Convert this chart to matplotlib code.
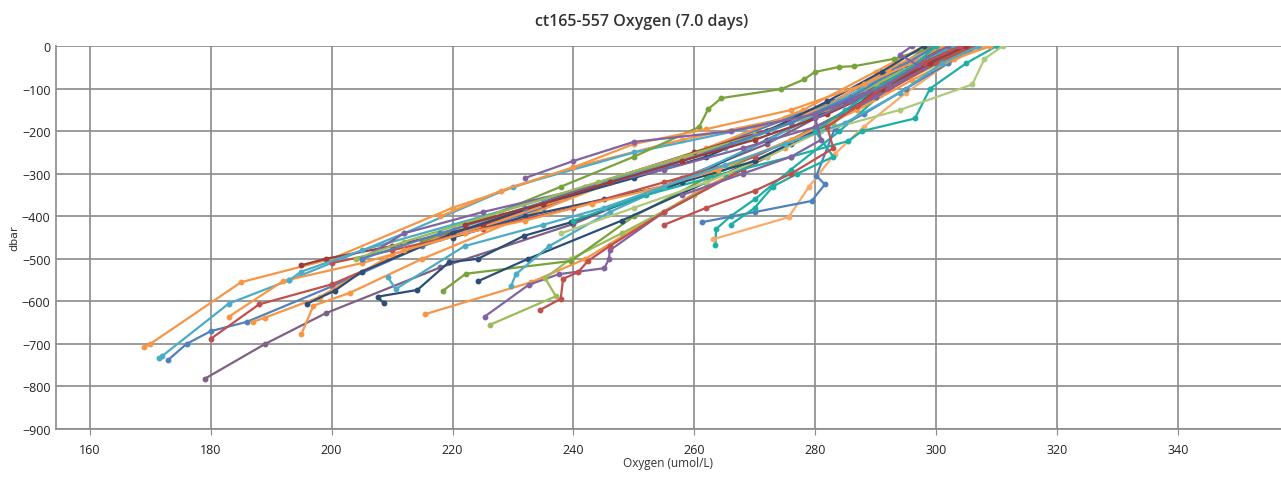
import matplotlib
matplotlib.use("Agg")
import matplotlib.pyplot as plt

# oxygen (umol/L) and pressure (dbar) for each float profile, surface first
oxy = [
    [300, 298, 290, 275, 258, 240, 220, 200, 185, 170, 169],
    [302, 297, 286, 270, 250, 230, 212, 193, 183, 172, 171.5],
    [299, 294, 283, 268, 252, 235, 215, 200, 186, 180, 176, 173],
    [305, 300, 288, 272, 255, 236, 218, 200, 188, 180],
    [303, 296, 284, 272, 258, 240, 218, 199, 189, 179],
    [300, 292, 282, 268, 250, 232, 215, 203, 197, 195],
    [304, 297, 286, 270, 255, 238, 222, 205, 192, 183],
    [298, 290, 278, 262, 245, 226, 210, 198, 189, 187],
    [306, 300, 290, 276, 260, 242, 225, 210, 199, 195],
    [305, 297, 287, 275, 262, 250, 242, 233, 215.5],
    [306, 300, 290, 280, 268, 255, 246, 245.9, 245.1, 237.6, 232.6, 225.3],
    [309, 302, 292, 283, 272, 260, 248, 239.6, 235.3, 237.1, 226.2],
    [307, 300, 290, 280, 268, 255, 246, 242.4, 240.8, 238.3, 237.9, 234.5],
    [306, 298, 288, 276, 262, 250, 239.6, 222.2, 218.4],
    [303, 296, 287, 276, 262, 248, 232.5, 224.3],
    [302, 295, 285, 272, 258, 239.6, 231.8, 224.2, 219.4, 214.2, 207.6, 208.6],
    [300, 294, 284, 273, 260, 246, 236, 230.5, 229.7],
    [305, 300, 292, 284, 276, 270, 266, 263.6, 263.5],
    [308, 302, 295, 288, 283.2, 279, 275.6, 263.1],
    [307, 302, 295, 288, 283.2, 280.2, 281.6, 279.4, 270, 261.2],
    [310, 305, 299, 296.5, 287.7, 285.5, 276, 265, 252, 240],
    [300, 293, 286.5, 283.9, 279.9, 278.2, 274.4, 264.5, 262.3, 260.8, 250, 238, 226, 215],
    [311, 308, 306, 294, 281, 272, 262, 250, 238],
    [298, 291, 282, 272, 262, 250, 235, 220, 205, 200.5, 196],
    [305, 298, 290, 280, 270, 258, 245, 232, 220],
    [306, 300, 292, 282, 270, 255, 240, 225, 210, 200],
    [303, 297, 288, 278, 265, 250, 235, 220, 205, 195, 193],
    [309, 303, 296, 287, 276, 264, 252, 243, 232, 222, 212],
    [304, 298, 290, 280, 268, 255, 240, 225, 212, 205],
    [302, 297, 290, 282, 270, 258, 244, 228, 212, 204],
    [307, 301, 294, 285, 275, 265, 255, 245, 235, 222, 210.6, 209.3],
    [300, 294, 286, 276, 266, 256, 246, 232, 218, 205],
    [305, 299, 291, 282, 270, 258, 246, 235, 222],
    [301, 296, 288, 276, 262, 250, 240, 228, 218],
    [302, 297, 290, 280, 266, 250, 240, 232],
    [300, 296, 290, 285, 280, 283, 277, 273, 270, 266],
    [304, 298, 292, 287, 282, 283, 276, 270, 262, 255],
    [296, 294, 297, 292, 286, 280, 281, 276, 268, 258],
]
dbar = [
    [0, -40, -100, -170, -220, -285, -380, -500, -555, -700, -708],
    [0, -50, -120, -190, -250, -330, -440, -550, -605, -728, -732],
    [0, -45, -130, -210, -290, -380, -470, -565, -648, -670, -700, -737],
    [0, -40, -120, -200, -280, -370, -450, -560, -607, -688],
    [0, -50, -140, -230, -310, -418, -520, -628, -700, -782],
    [0, -55, -140, -220, -300, -400, -500, -580, -610, -677],
    [0, -45, -130, -210, -280, -360, -440, -510, -552, -636],
    [0, -60, -150, -240, -320, -410, -490, -590, -638, -648],
    [0, -30, -100, -180, -250, -330, -420, -470, -500, -515],
    [0, -50, -140, -240, -330, -430, -500, -555, -630],
    [0, -40, -120, -200, -290, -390, -480, -500, -522, -536, -561, -636],
    [0, -30, -100, -180, -260, -350, -440, -500, -545, -588, -655],
    [0, -40, -120, -200, -290, -390, -470, -505, -531, -547, -594, -620],
    [0, -50, -130, -220, -310, -400, -505, -535, -575],
    [0, -50, -140, -230, -320, -410, -500, -552],
    [0, -45, -130, -220, -320, -414, -446, -500, -508, -573, -589, -604],
    [0, -50, -130, -215, -300, -390, -470, -536, -563],
    [0, -30, -100, -200, -290, -360, -400, -430, -467],
    [0, -40, -110, -190, -254, -330, -402, -454],
    [0, -40, -100, -160, -195, -305, -325, -364, -390, -414],
    [0, -40, -100, -170, -200, -223, -260, -300, -350, -410],
    [0, -30, -47, -49, -61, -78, -101, -122, -148, -190, -260, -330, -400, -460],
    [0, -30, -90, -150, -200, -260, -320, -380, -440],
    [0, -60, -130, -200, -260, -310, -370, -440, -530, -575, -605],
    [0, -40, -110, -200, -270, -320, -360, -400, -450],
    [0, -40, -100, -180, -260, -320, -380, -430, -480, -510],
    [0, -40, -100, -170, -240, -300, -360, -420, -480, -530, -550],
    [0, -30, -80, -150, -220, -290, -340, -370, -410, -440, -480],
    [0, -50, -120, -190, -240, -290, -340, -390, -440, -500],
    [0, -40, -90, -150, -210, -260, -320, -390, -460, -500],
    [0, -40, -110, -180, -230, -280, -330, -380, -420, -470, -571, -543],
    [0, -50, -120, -180, -230, -280, -320, -380, -440, -500],
    [0, -40, -100, -160, -220, -270, -320, -370, -420],
    [0, -40, -90, -150, -195, -230, -285, -340, -400],
    [0, -40, -100, -160, -200, -225, -270, -310],
    [0, -50, -100, -150, -200, -260, -300, -330, -380, -420],
    [0, -40, -90, -140, -190, -240, -300, -340, -380, -420],
    [0, -20, -45, -90, -130, -170, -220, -260, -300, -350],
]

colors = ["#F79646", "#4BACC6", "#4F81BD", "#C0504D", "#7F6084", "#F79646",
          "#F79646", "#F79646", "#A0393A", "#F79646", "#8064A2", "#9BBB59",
          "#C0504D", "#77A33A", "#2C4D75", "#2C4D75", "#4BACC6", "#1CAFA6",
          "#F9AB6B", "#4F81BD", "#1CAFA6", "#77A33A", "#AFC97A", "#2C4D75",
          "#2C4D75", "#C0504D", "#4BACC6", "#F79646", "#8064A2", "#9BBB59",
          "#4BACC6", "#4F81BD", "#A0393A", "#F79646", "#8064A2", "#1CAFA6",
          "#C0504D", "#8064A2"]

xticks = list(range(160, 341, 20))
yticks = list(range(-900, 1, 100))

fig = plt.figure(figsize=(12.81, 4.81), dpi=100)
ax = fig.add_axes([0.0437, 0.106, 0.956, 0.796])

for xs, ys, c in zip(oxy, dbar, colors):
    ax.plot(xs, ys, color=c, lw=1.6, marker="o", ms=3.2, zorder=3)

ax.set_xlim(154.4, 357)
ax.set_ylim(-900, 0)
ax.set_xticks(xticks)
ax.set_yticks(yticks)
ax.grid(True, color="#8a8a8a", lw=1.2, zorder=0)
ax.set_axisbelow(True)
for s in ["top", "right"]:
    ax.spines[s].set_visible(False)
for s in ["left", "bottom"]:
    ax.spines[s].set_color("#8a8a8a")
    ax.spines[s].set_linewidth(1.2)
ax.tick_params(axis="x", length=4, color="#8a8a8a", labelsize=9, pad=6)
ax.tick_params(axis="y", length=0, labelsize=9, pad=4)
for lab in ax.get_xticklabels() + ax.get_yticklabels():
    lab.set_family("Open Sans")
    lab.set_color("#222222")

fig.text(0.501, 0.955, "ct165-557 Oxygen (7.0 days)", ha="center", va="center",
         fontsize=11.5, fontweight="semibold", family="Open Sans", color="#333333")
ax.set_xlabel("Oxygen (umol/L)", fontsize=8.5, family="Open Sans", color="#333333", labelpad=0)
ax.set_ylabel("dbar", fontsize=8, color="#333333", labelpad=2)

fig.savefig("out.png", dpi=100)
